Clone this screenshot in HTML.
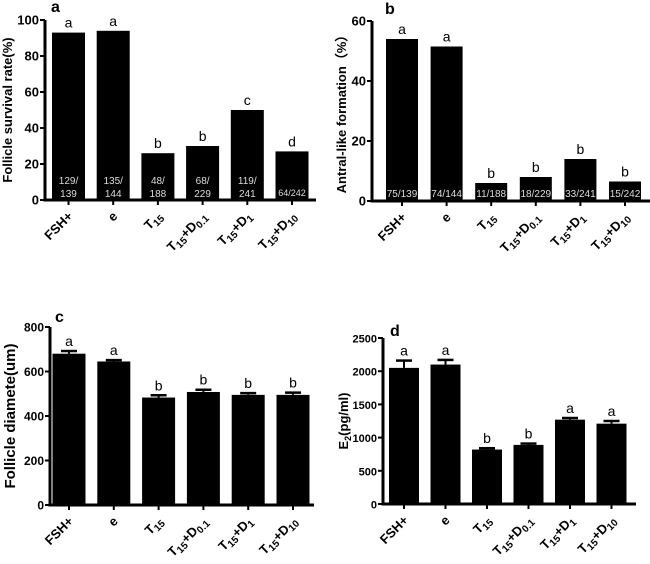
<!DOCTYPE html>
<html><head><meta charset="utf-8"><style>
body{margin:0;background:#fff;width:650px;height:559px;overflow:hidden}
svg{font-family:"Liberation Sans",Arial,sans-serif}
</style></head><body>
<svg id="fig" width="650" height="559" viewBox="0 0 650 559"></svg>
<script>
const categories=["FSH+","e","T15","T15+D0.1","T15+D1","T15+D10"];
const survivalValues=[93,94,26,30,50,27];
const survivalLetters=["a","a","b","b","c","d"];
const survivalCounts=[["129/","139"],["135/","144"],["48/","188"],["68/","229"],["119/","241"],["64/242"]];
const survivalTicks=[0,20,40,60,80,100];
const antralValues=[54,51.5,6,8,14,6.5];
const antralLetters=["a","a","b","b","b","b"];
const antralCounts=[["75/139"],["74/144"],["11/188"],["18/229"],["33/241"],["15/242"]];
const antralTicks=[0,20,40,60];
const diameterValues=[680,645,483,508,495,495];
const diameterErrors=[12,6,10,10,8,10];
const diameterLetters=["a","a","b","b","b","b"];
const diameterTicks=[0,200,400,600,800];
const e2Values=[2050,2100,820,890,1270,1210];
const e2Errors=[110,70,20,20,25,40];
const e2Letters=["a","a","b","b","a","a"];
const e2Ticks=[0,500,1000,1500,2000,2500];

const NS="http://www.w3.org/2000/svg";
const svg=document.getElementById('fig');
function mk(tag,attrs,parent,text){const e=document.createElementNS(NS,tag);for(const k in attrs)e.setAttribute(k,attrs[k]);if(text!==undefined)e.textContent=text;(parent||svg).appendChild(e);return e;}

function xlabel(g,name,x,y){
  const t=mk('text',{x:x,y:y,'text-anchor':'end','font-size':13,'font-weight':'bold',transform:`rotate(-45 ${x} ${y})`},g);
  
  
  const m=name.match(/^T15(\+D(.*))?$/);
  if(!m){t.textContent=name;return;}
  mk('tspan',{},t,'T');
  mk('tspan',{'font-size':10,dy:3},t,'15');
  if(m[1]){mk('tspan',{dy:-3},t,'+D');mk('tspan',{'font-size':10,dy:3},t,m[2]);}
}

function panel(cfg){
  const g=mk('g',{});
  
  
  const ys=v=>cfg.y0-(v/cfg.max)*(cfg.y0-cfg.yTop);
  const xs=i=>cfg.c0+i*cfg.step;
  cfg.values.forEach((v,i)=>{
    const r=mk('rect',{x:xs(i)-cfg.bw/2,y:ys(v),width:cfg.bw,height:cfg.y0-ys(v),fill:'#000'},g);
    
    
    let top=ys(v);
    if(cfg.errors){
      const ey=ys(v+cfg.errors[i]);
      mk('line',{x1:xs(i),x2:xs(i),y1:ys(v),y2:ey,stroke:'#000','stroke-width':2},g);
      const cap=mk('line',{x1:xs(i)-8,x2:xs(i)+8,y1:ey,y2:ey,stroke:'#000','stroke-width':2.5},g);
      
      
      top=ey;
    }
    const lt=mk('text',{x:xs(i),y:top-5,'text-anchor':'middle','font-size':cfg.lfs||14},g,cfg.letters[i]);
    
    
    if(cfg.counts){
      const c=cfg.counts[i];
      c.forEach((s,j)=>{
        const ct=mk('text',{x:xs(i),y:cfg.y0-(c.length===2?(j===0?16:3):4),'text-anchor':'middle','font-size':c.length===2||cfg.cfs?(cfg.cfs||10):9,fill:'#ddd'},g,s);
        
        
      });
    }
    mk('line',{x1:xs(i),x2:xs(i),y1:cfg.y0,y2:cfg.y0+5,stroke:'#000','stroke-width':2},g);
    xlabel(g,categories[i],xs(i)+5,cfg.y0+17);
  });
  const ya=mk('line',{x1:cfg.ax,x2:cfg.ax,y1:cfg.yTop,y2:cfg.y0+1.5,stroke:'#000','stroke-width':3},g);
  
  
  const xa=mk('line',{x1:cfg.ax-1.5,x2:cfg.xEnd,y1:cfg.y0,y2:cfg.y0,stroke:'#000','stroke-width':3},g);
  
  
  cfg.ticks.forEach(t=>{
    mk('line',{x1:cfg.ax-5,x2:cfg.ax,y1:ys(t),y2:ys(t),stroke:'#000','stroke-width':2},g);
    const tl=mk('text',{x:cfg.ax-6,y:ys(t)+4.5,'text-anchor':'end','font-size':cfg.tfs||13,'font-weight':'bold'},g,t);
    
    
  });
  const yt=mk('text',{x:cfg.titleX,y:(cfg.y0+cfg.yTop)/2,'text-anchor':'middle','font-size':cfg.titleFs||14,'font-weight':'bold',transform:`rotate(-90 ${cfg.titleX} ${(cfg.y0+cfg.yTop)/2})`},g);
  
  
  if(cfg.titleE2){mk('tspan',{},yt,'E');mk('tspan',{'font-size':9,dy:3},yt,'2');mk('tspan',{dy:-3},yt,'(pg/ml)');}
  else yt.textContent=cfg.title;
  const pl=mk('text',{x:cfg.letterX,y:cfg.letterY,'font-size':16,'font-weight':'bold'},g,cfg.letter);
  
  
}

panel({name:'panel-a-survival',values:survivalValues,letters:survivalLetters,counts:survivalCounts,ticks:survivalTicks,max:100,
  ax:45,xEnd:316,y0:200,yTop:20,c0:68.5,step:44.7,bw:33,title:'Follicle survival rate(%)',titleX:12,titleFs:13,letter:'a',letterX:51,letterY:12});
panel({name:'panel-b-antral',values:antralValues,letters:antralLetters,counts:antralCounts,ticks:antralTicks,max:60,cfs:10,
  ax:372,xEnd:650,y0:201,yTop:21,c0:402,step:44.6,bw:32,title:'Antral-like formation（%）',titleX:346,titleFs:13,letter:'b',letterX:385,letterY:14});
panel({name:'panel-c-diameter',values:diameterValues,errors:diameterErrors,letters:diameterLetters,ticks:diameterTicks,max:800,tfs:12,lfs:14,
  ax:50,xEnd:314,y0:505,yTop:327,c0:69,step:44.8,bw:33,title:'Follicle diamete(um)',titleX:15,titleFs:15,letter:'c',letterX:55,letterY:322});
panel({name:'panel-d-e2',values:e2Values,errors:e2Errors,letters:e2Letters,ticks:e2Ticks,max:2500,tfs:11,lfs:14,
  ax:383,xEnd:636,y0:504,yTop:338,c0:404,step:41.5,bw:30,titleE2:true,titleX:348,titleFs:13,letter:'d',letterX:390,letterY:336});
</script>
</body></html>
